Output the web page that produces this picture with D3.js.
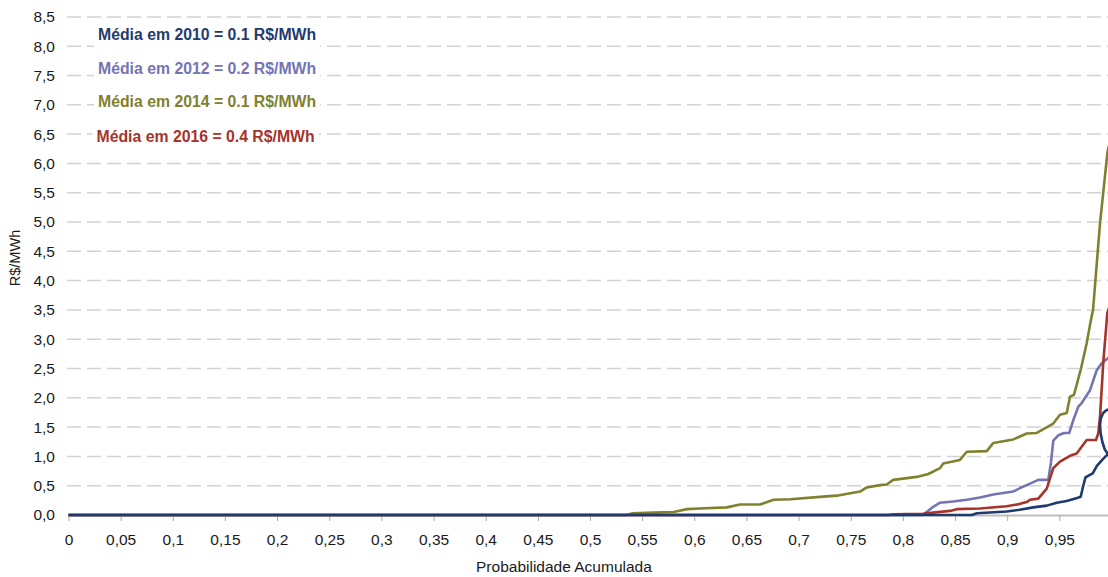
<!DOCTYPE html>
<html>
<head>
<meta charset="utf-8">
<script src="https://cdn.jsdelivr.net/npm/d3@7/dist/d3.min.js"></script>
<style>
  html, body { margin: 0; padding: 0; background: #fff; }
  svg { display: block; font-family: Arial, "Liberation Sans", sans-serif; }
</style>
</head>
<body>
<div id="chart"></div>
<script>
// Values: [probabilidade acumulada, R$/MWh]
const s2010 = [[0, 0], [0.866, 0], [0.871, 0.03], [0.8995, 0.06], [0.912, 0.09], [0.925, 0.13],
  [0.938, 0.16], [0.9475, 0.21], [0.957, 0.24], [0.967, 0.29], [0.9705, 0.31], [0.9725, 0.47],
  [0.975, 0.64], [0.978, 0.67], [0.982, 0.71], [0.986, 0.84], [0.9915, 0.95], [0.9965, 1.04],
  [0.9935, 1.12], [0.9912, 1.25], [0.9895, 1.4], [0.989, 1.55], [0.9898, 1.65], [0.992, 1.74],
  [0.9945, 1.78], [0.9965, 1.8], [0.999, 1.81]];

const s2012 = [[0, 0], [0.818, 0], [0.8212, 0.03], [0.8291, 0.14], [0.8356, 0.21], [0.8483, 0.23],
  [0.8612, 0.26], [0.8739, 0.30], [0.8867, 0.35], [0.9058, 0.40], [0.9123, 0.46], [0.9187, 0.51],
  [0.9298, 0.60], [0.9394, 0.60], [0.942, 0.9], [0.9442, 1.27], [0.949, 1.36], [0.9545, 1.40],
  [0.9595, 1.40], [0.9634, 1.62], [0.9682, 1.85], [0.9714, 1.91], [0.9794, 2.13], [0.9858, 2.47],
  [0.9906, 2.59], [0.9962, 2.67], [0.999, 2.72]];

const s2014 = [[0, 0], [0.535, 0], [0.541, 0.03], [0.561, 0.04], [0.580, 0.05], [0.593, 0.10],
  [0.605, 0.11], [0.631, 0.13], [0.644, 0.18], [0.663, 0.18], [0.676, 0.26], [0.692, 0.27],
  [0.7205, 0.31], [0.7365, 0.33], [0.7589, 0.40], [0.7653, 0.47], [0.7781, 0.51], [0.7845, 0.52],
  [0.7908, 0.60], [0.8132, 0.65], [0.8244, 0.70], [0.8356, 0.80], [0.8387, 0.88], [0.8547, 0.94],
  [0.8612, 1.08], [0.8804, 1.09], [0.8867, 1.23], [0.9058, 1.29], [0.9187, 1.39], [0.9283, 1.40],
  [0.9442, 1.56], [0.9506, 1.71], [0.9571, 1.74], [0.9602, 2.02], [0.964, 2.05], [0.9708, 2.50],
  [0.9762, 2.93], [0.9803, 3.33], [0.9823, 3.5], [0.989, 4.98], [0.9962, 6.2], [0.999, 6.4]];

const s2016 = [[0, 0], [0.786, 0], [0.7908, 0.01], [0.8196, 0.02], [0.8289, 0.04], [0.8452, 0.07],
  [0.8516, 0.10], [0.8739, 0.11], [0.8995, 0.15], [0.9123, 0.19], [0.9187, 0.22], [0.9219, 0.26],
  [0.9298, 0.28], [0.9379, 0.45], [0.9442, 0.80], [0.9506, 0.91], [0.9602, 1.01], [0.9666, 1.05],
  [0.9762, 1.28], [0.9851, 1.28], [0.9873, 1.39], [0.989, 1.68], [0.9921, 2.6], [0.996, 3.45],
  [0.999, 3.6]];

const seriesYears = ["2010", "2012", "2014", "2016"];
const seriesMeans = ["0.1", "0.2", "0.1", "0.4"];

const xTicks = [0, 0.05, 0.1, 0.15, 0.2, 0.25, 0.3, 0.35, 0.4, 0.45,
  0.5, 0.55, 0.6, 0.65, 0.7, 0.75, 0.8, 0.85, 0.9, 0.95];
const xTickLabels = ["0", "0,05", "0,1", "0,15", "0,2", "0,25", "0,3", "0,35", "0,4", "0,45",
  "0,5", "0,55", "0,6", "0,65", "0,7", "0,75", "0,8", "0,85", "0,9", "0,95"];
const yTicks = [0, 0.5, 1, 1.5, 2, 2.5, 3, 3.5, 4, 4.5, 5, 5.5, 6, 6.5, 7, 7.5, 8, 8.5];
const yTickLabels = ["0,0", "0,5", "1,0", "1,5", "2,0", "2,5", "3,0", "3,5", "4,0", "4,5",
  "5,0", "5,5", "6,0", "6,5", "7,0", "7,5", "8,0", "8,5"];

const width = 1108, height = 577;
// plot area runs a little past the right edge (the source image is cropped there)
const margin = { top: 16.9, right: -3.5, bottom: 62, left: 68.5 };
const fontSize = 15.5;

const colors = { "2010": "#1f3a6e", "2012": "#7474b4", "2014": "#80812f", "2016": "#a5342a" };

const svg = d3.select("#chart").append("svg")
    .attr("width", width)
    .attr("height", height);

const x = d3.scaleLinear()
    .domain([0, 1])
    .range([margin.left, width - margin.right]);

const y = d3.scaleLinear()
    .domain([0, 8.5])
    .range([height - margin.bottom, margin.top]);

// Dashed gridlines
svg.append("g")
    .classed("grid", true)
    .selectAll("line")
    .data(yTicks.filter(d => d > 0))
    .enter()
    .append("line")
    .attr("x1", margin.left - 1.5)
    .attr("x2", width)
    .attr("y1", d => y(d))
    .attr("y2", d => y(d))
    .attr("stroke", "#d2d2d2")
    .attr("stroke-width", 1.5)
    .attr("stroke-dasharray", "14,6");

// Y tick labels
svg.append("g")
    .classed("y-axis", true)
    .selectAll("text")
    .data(yTicks)
    .enter()
    .append("text")
    .attr("x", 55)
    .attr("y", d => y(d))
    .attr("dy", "0.35em")
    .attr("text-anchor", "end")
    .style("font-size", fontSize + "px")
    .style("fill", "#1a1a1a")
    .text((d, i) => yTickLabels[i]);

// X axis
const xAxis = svg.append("g")
    .classed("x-axis", true)
    .attr("transform", `translate(0,${y(0)})`)
    .call(d3.axisBottom(x)
        .tickValues(xTicks)
        .tickFormat((d, i) => xTickLabels[i])
        .tickSize(6)
        .tickPadding(13)
        .tickSizeOuter(0));

xAxis.select(".domain")
    .attr("stroke", "#bdbdbd")
    .attr("stroke-width", 2);
xAxis.selectAll(".tick line")
    .attr("stroke", "#a8a8a8");
xAxis.selectAll(".tick text")
    .style("font-size", fontSize + "px")
    .style("font-family", "Arial, 'Liberation Sans', sans-serif")
    .style("fill", "#1a1a1a");

// Series lines
const line = d3.line()
    .x(d => x(d[0]))
    .y(d => y(d[1]));

const seriesData = { "2010": s2010, "2012": s2012, "2014": s2014, "2016": s2016 };
const drawOrder = ["2014", "2012", "2016", "2010"];

svg.append("g")
    .classed("series", true)
    .selectAll("path")
    .data(drawOrder)
    .enter()
    .append("path")
    .attr("d", d => line(seriesData[d]))
    .attr("fill", "none")
    .attr("stroke", d => colors[d])
    .attr("stroke-width", 2.6)
    .attr("stroke-linejoin", "round");

// Legend labels with white boxes over the gridlines
const legendY = [40, 74, 107, 141.5];
const legendX = [98, 98, 98, 96.5];
const legend = svg.append("g").classed("legend", true);

seriesYears.forEach((yr, i) => {
    const t = legend.append("text")
        .attr("x", legendX[i])
        .attr("y", legendY[i])
        .style("font-size", "15.8px")
        .style("font-weight", "bold")
        .style("fill", colors[yr])
        .text(`Média em ${yr} = ${seriesMeans[i]} R$/MWh`);
    const bb = t.node().getBBox();
    legend.insert("rect", "text")
        .attr("x", bb.x - 4)
        .attr("y", legendY[i] - 19)
        .attr("width", bb.width + 8)
        .attr("height", 27)
        .attr("fill", "#fff");
});

// Axis titles
svg.append("text")
    .attr("x", x(0.475))
    .attr("y", 572)
    .attr("text-anchor", "middle")
    .style("font-size", fontSize + "px")
    .style("fill", "#1a1a1a")
    .text("Probabilidade Acumulada");

svg.append("text")
    .attr("transform", "translate(20,258) rotate(-90)")
    .attr("text-anchor", "middle")
    .style("font-size", "14.5px")
    .style("fill", "#1a1a1a")
    .text("R$/MWh");
</script>
</body>
</html>
